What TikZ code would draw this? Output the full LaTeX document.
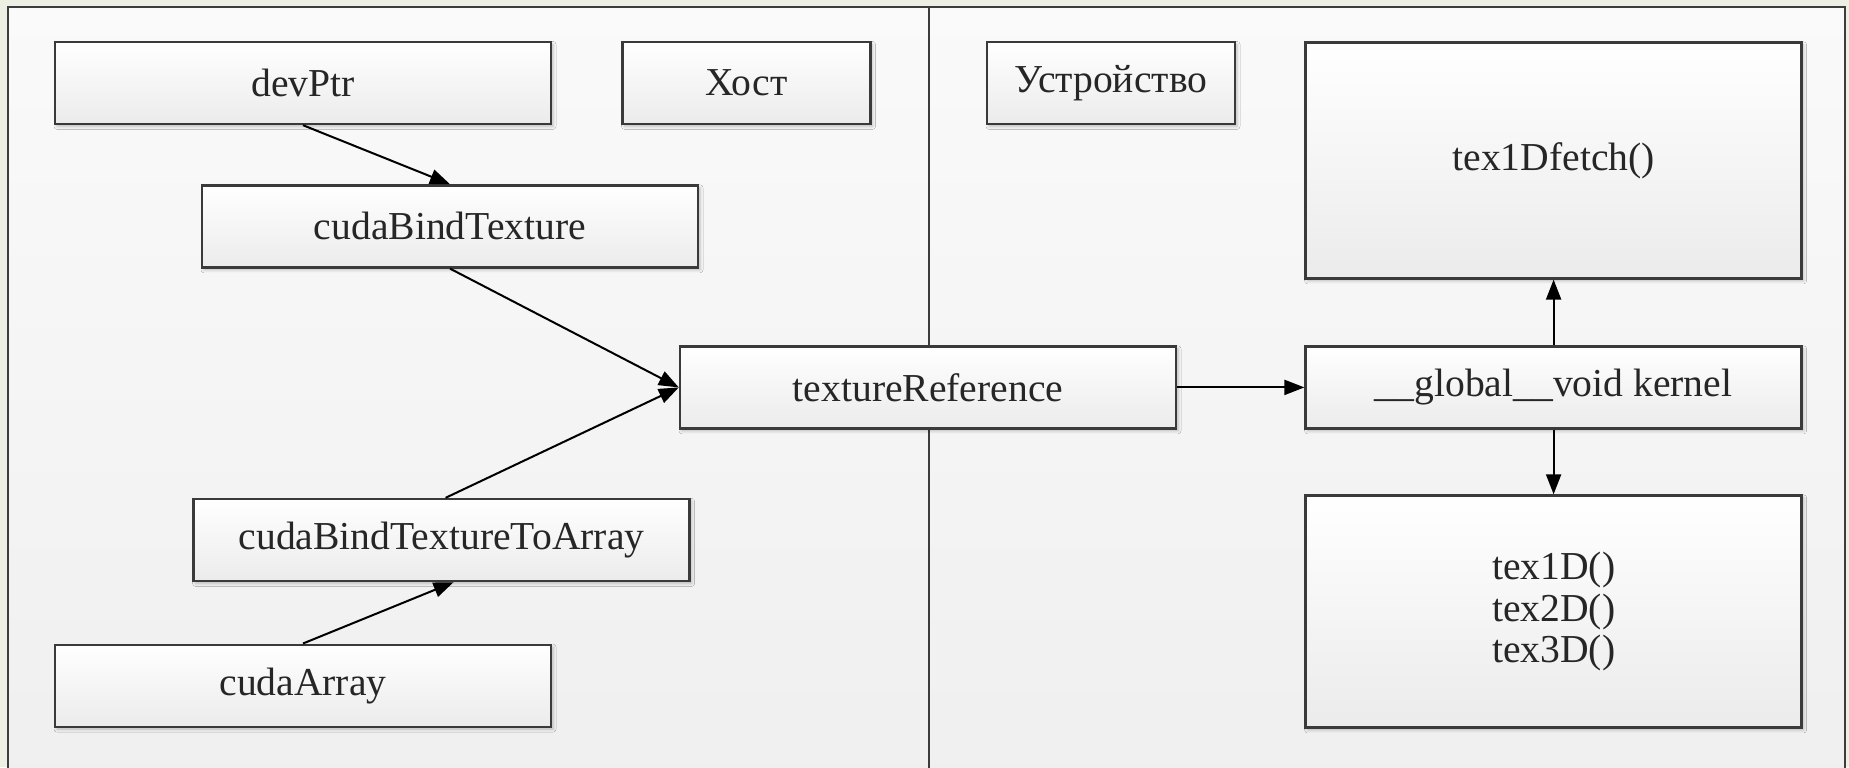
\documentclass[tikz,border=0pt]{standalone}
\usepackage{fontspec}
\setmainfont{Liberation Serif}
\usetikzlibrary{arrows.meta,shadows.blur}
\definecolor{outerbg}{HTML}{ECEFE1}
\definecolor{framec}{HTML}{3C3C3C}
\definecolor{boxline}{HTML}{3A3A3A}
\definecolor{boxbot}{HTML}{EBEBEB}
\definecolor{panelbot}{HTML}{EFEFEF}
\tikzset{
  box/.style={draw=boxline, line width=1.2pt, top color=white, bottom color=boxbot,
    inner sep=0pt, align=center, text=black!85,
    font=\fontsize{19.8}{20.6}\selectfont,
    blur shadow={shadow xshift=1pt, shadow yshift=-1.2pt, shadow blur radius=1.5pt, shadow opacity=25}},
  wide/.style={minimum width=248pt, minimum height=41pt},
  narrow/.style={minimum width=124pt, minimum height=41pt},
  conn/.style={line width=1pt, -{Triangle[length=10pt,width=7.5pt]}},
}
\begin{document}
\begin{tikzpicture}[x=0.5pt,y=-0.5pt]
\useasboundingbox (0,0) rectangle (1849,767);
\fill[outerbg] (0,0) rectangle (1849,767);
\begin{scope}
\clip (0,0) rectangle (1849,767);
\shade[top color=white!98!black, bottom color=panelbot] (8,7) rectangle (1845,800);
\draw[framec, line width=1.2pt] (8,7) rectangle (1845,800);
\draw[framec, line width=1pt] (929,7) -- (929,800);
\end{scope}

\node[box, wide] (devPtr) at (303,83) {devPtr};
\node[box, narrow] (host) at (746.5,83) {Хост};
\node[box, narrow] (device) at (1111,83) {Устройство};
\node[box, minimum width=248pt, minimum height=118pt] (fetch) at (1553.6,160.4) {tex1Dfetch()};
\node[box, wide] (cbt) at (450,226.4) {cudaBindTexture};
\node[box, wide] (texref) at (928,387.4) {textureReference};
\node[box, wide] (kernel) at (1553.6,387.4) {\_\_global\_\_void kernel};
\node[box, wide] (cbtta) at (441.6,540) {cudaBindTextureToArray};
\node[box, wide] (carr) at (303,685.7) {cudaArray};
\node[box, minimum width=248pt, minimum height=116pt] (texn) at (1553.6,611.5) {tex1D()\\tex2D()\\tex3D()};

\draw[conn] (devPtr.south) -- (cbt.north);
\draw[conn] (cbt.south) -- (texref.west);
\draw[conn] ([xshift=2pt]cbtta.north) -- (texref.west);
\draw[conn] (carr.north) -- ([xshift=6pt]cbtta.south);
\draw[conn] (texref.east) -- (kernel.west);
\draw[conn] (kernel.north) -- (fetch.south);
\draw[conn] (kernel.south) -- (texn.north);
\end{tikzpicture}
\end{document}
